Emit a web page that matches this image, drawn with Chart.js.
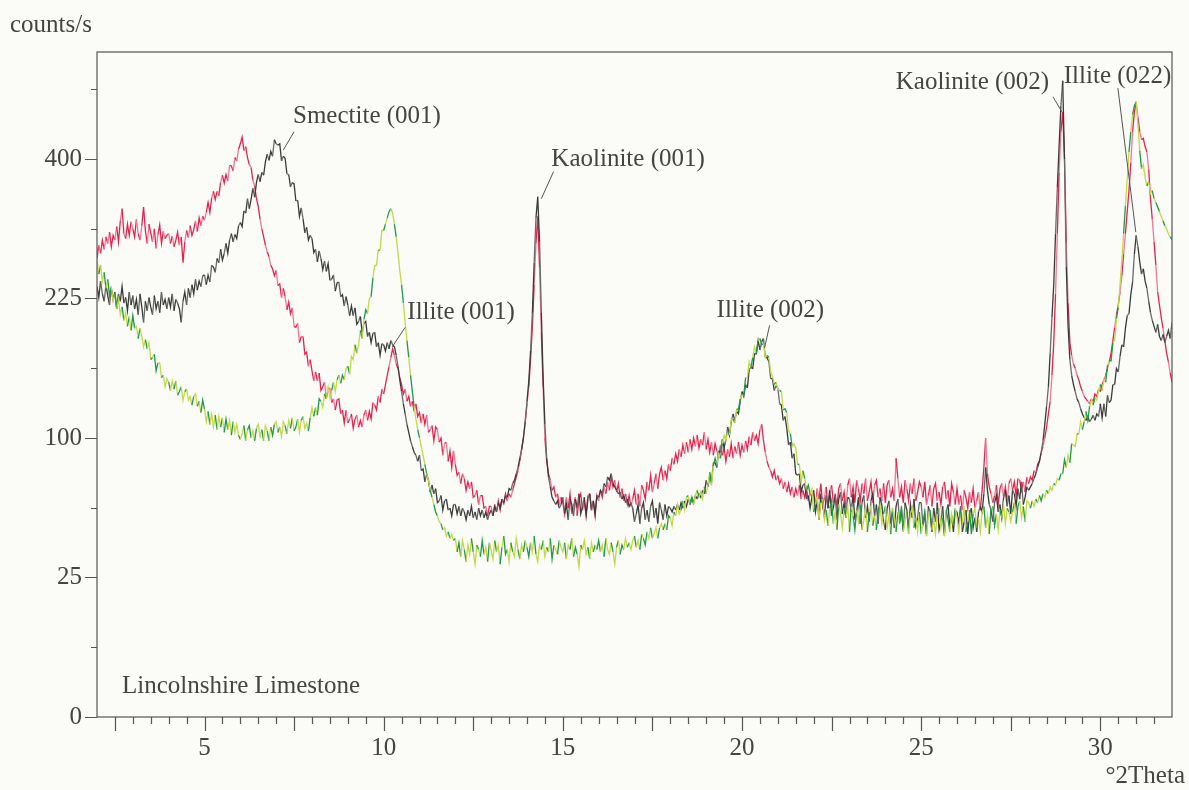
<!DOCTYPE html>
<html>
<head>
<meta charset="utf-8">
<title>Lincolnshire Limestone</title>
<script src="https://cdn.jsdelivr.net/npm/chart.js@4.4.1/dist/chart.umd.min.js"></script>
<style>
  html, body { margin: 0; padding: 0; background: #fbfbf7; }
  #wrap { width: 1189px; height: 790px; position: relative; }
</style>
</head>
<body>
<div id="wrap"><canvas id="xrd"></canvas></div>
<script>
// 2θ grid: 2.00 .. 32.00 deg in 0.05 deg steps, one row per degree
const thetaStart = 2.0;
const thetaStep = 0.05;

// counts/s, air dried
const airDried = [
  238, 226, 244, 230, 222, 240, 228, 218, 236, 224, 232, 214, 230, 222, 238, 220, 226, 212, 232, 218,
  228, 214, 224, 208, 230, 216, 200, 222, 212, 226, 216, 208, 228, 214, 222, 210, 232, 218, 224, 214,
  226, 216, 230, 212, 224, 220, 214, 200, 222, 232, 218, 236, 226, 240, 230, 246, 234, 244, 238, 250,
  251, 240, 251, 243, 262, 260, 254, 270, 265, 281, 268, 276, 288, 276, 292, 300, 290, 299, 294, 310,
  314, 309, 329, 326, 345, 332, 344, 359, 347, 367, 378, 368, 381, 377, 396, 407, 398, 411, 404, 428,
  422, 420, 422, 397, 404, 401, 379, 378, 361, 367, 365, 342, 343, 322, 333, 319, 301, 308, 292, 298,
  294, 277, 281, 266, 279, 270, 257, 267, 255, 264, 245, 246, 251, 233, 242, 243, 227, 229, 217, 227,
  218, 207, 217, 207, 215, 198, 201, 206, 190, 199, 201, 186, 190, 180, 189, 190, 176, 180, 168, 179,
  178, 172, 180, 174, 182, 178, 176, 168, 158, 146, 136, 126, 118, 110, 104, 98, 94, 90, 88, 84,
  88, 78, 79, 71, 76, 72, 65, 69, 64, 67, 59, 60, 63, 55, 60, 61, 55, 56, 52, 58,
  58, 53, 57, 52, 56, 54, 50, 55, 52, 57, 51, 54, 50, 56, 52, 55, 51, 54, 50, 53,
  55, 52, 57, 54, 59, 56, 61, 59, 63, 62, 67, 66, 70, 72, 76, 80, 86, 92, 100, 112,
  128, 145, 172, 210, 265, 320, 348, 290, 210, 148, 110, 86, 74, 68, 62, 60, 58, 60, 56, 58,
  62, 53, 58, 50, 61, 58, 52, 61, 56, 64, 53, 57, 62, 52, 61, 64, 55, 60, 53, 63,
  62, 66, 64, 70, 68, 74, 72, 76, 70, 68, 66, 64, 65, 61, 63, 59, 61, 57, 59, 56,
  49, 53, 58, 48, 56, 59, 50, 55, 49, 57, 60, 51, 56, 48, 59, 55, 50, 58, 52, 57,
  56, 54, 57, 55, 58, 55, 59, 56, 60, 57, 61, 58, 62, 59, 63, 61, 64, 62, 66, 64,
  72, 68, 75, 71, 83, 83, 80, 91, 90, 99, 93, 99, 108, 102, 112, 118, 113, 120, 118, 128,
  136, 132, 142, 139, 155, 157, 156, 170, 169, 182, 173, 181, 184, 166, 166, 162, 147, 147, 137, 141,
  139, 126, 125, 113, 116, 107, 95, 97, 86, 89, 76, 75, 76, 65, 69, 70, 61, 63, 56, 62,
  66, 54, 60, 50, 64, 60, 51, 63, 56, 66, 52, 56, 63, 50, 61, 65, 53, 59, 51, 62,
  61, 54, 64, 50, 54, 62, 48, 59, 63, 51, 57, 49, 60, 64, 52, 58, 48, 62, 58, 49,
  45, 56, 60, 48, 54, 46, 57, 61, 49, 55, 45, 59, 55, 46, 58, 51, 61, 47, 51, 59,
  59, 47, 53, 43, 57, 53, 44, 56, 49, 59, 45, 49, 57, 43, 54, 58, 46, 52, 44, 55,
  54, 48, 57, 44, 49, 55, 43, 53, 56, 46, 51, 44, 54, 57, 54, 64, 80, 66, 58, 55,
  49, 59, 63, 54, 58, 51, 62, 66, 57, 63, 53, 66, 64, 57, 67, 61, 71, 58, 62, 68,
  66, 68, 70, 73, 76, 80, 84, 90, 98, 110, 124, 140, 170, 205, 240, 300, 360, 420, 480, 520,
  400, 260, 196, 164, 150, 142, 136, 130, 127, 122, 118, 115, 113, 116, 112, 114, 117, 113, 118, 116,
  126, 115, 126, 116, 133, 127, 129, 142, 142, 156, 153, 167, 178, 176, 194, 207, 209, 229, 243, 275,
  298, 284, 266, 252, 258, 244, 236, 222, 210, 202, 196, 190, 198, 186, 182, 188, 180, 186, 192, 184,
  200
];

// counts/s, glycolated
const glycolated = [
  270, 286, 276, 292, 281, 296, 288, 302, 284, 298, 292, 309, 290, 316, 332, 300, 294, 312, 298, 315,
  306, 296, 318, 300, 292, 310, 334, 304, 288, 312, 301, 290, 306, 282, 299, 311, 288, 303, 294, 298,
  300, 288, 297, 284, 292, 302, 286, 296, 265, 290, 304, 295, 310, 298, 305, 316, 303, 320, 310, 322,
  317, 327, 340, 327, 346, 355, 344, 355, 349, 367, 377, 366, 378, 369, 391, 390, 383, 402, 397, 414,
  422, 432, 412, 418, 402, 392, 388, 370, 362, 345, 335, 318, 306, 296, 286, 278, 272, 262, 258, 250,
  256, 239, 241, 226, 236, 227, 213, 221, 209, 215, 196, 195, 199, 180, 186, 186, 169, 171, 158, 164,
  154, 145, 153, 145, 152, 137, 140, 144, 130, 138, 139, 127, 130, 121, 129, 130, 118, 121, 111, 121,
  111, 114, 118, 107, 114, 117, 108, 113, 108, 117, 121, 113, 120, 114, 127, 125, 121, 132, 127, 138,
  134, 142, 150, 158, 166, 174, 168, 160, 156, 148, 142, 134, 138, 128, 132, 124, 128, 120, 126, 116,
  119, 111, 118, 110, 117, 104, 106, 109, 98, 108, 106, 97, 100, 88, 96, 97, 84, 91, 80, 91,
  82, 75, 77, 70, 76, 73, 66, 71, 67, 71, 62, 63, 66, 58, 63, 63, 56, 57, 52, 57,
  57, 52, 58, 54, 60, 55, 61, 58, 64, 60, 64, 62, 66, 70, 74, 78, 84, 92, 100, 112,
  126, 140, 165, 195, 240, 288, 322, 260, 190, 140, 100, 84, 76, 72, 66, 68, 62, 64, 58, 62,
  59, 53, 62, 56, 64, 53, 57, 62, 52, 61, 64, 55, 59, 53, 63, 64, 55, 60, 52, 63,
  60, 66, 62, 68, 64, 71, 66, 74, 68, 72, 65, 70, 62, 67, 60, 64, 58, 63, 57, 61,
  66, 58, 64, 57, 69, 66, 61, 71, 66, 75, 65, 70, 76, 67, 76, 80, 72, 78, 73, 82,
  78, 86, 82, 89, 84, 92, 87, 95, 89, 97, 90, 99, 92, 100, 94, 102, 93, 99, 95, 104,
  92, 99, 90, 97, 88, 96, 91, 86, 95, 88, 93, 84, 92, 87, 96, 86, 94, 89, 97, 88,
  95, 90, 98, 92, 101, 95, 104, 98, 102, 96, 106, 110, 98, 90, 84, 80, 78, 74, 78, 72,
  75, 70, 73, 67, 71, 65, 70, 64, 68, 62, 67, 63, 69, 61, 66, 62, 67, 60, 65, 62,
  64, 57, 67, 61, 70, 57, 62, 68, 56, 66, 69, 59, 64, 57, 67, 70, 60, 65, 56, 69,
  73, 62, 68, 59, 72, 67, 60, 70, 64, 73, 60, 65, 71, 59, 69, 72, 62, 67, 60, 70,
  59, 69, 72, 62, 67, 60, 86, 73, 62, 68, 59, 72, 67, 60, 70, 64, 73, 60, 65, 71,
  68, 62, 71, 58, 63, 69, 57, 67, 70, 60, 65, 58, 68, 71, 61, 66, 57, 70, 65, 58,
  67, 58, 63, 55, 66, 62, 56, 65, 59, 67, 56, 60, 65, 55, 66, 80, 100, 76, 68, 64,
  59, 63, 69, 58, 67, 70, 62, 68, 60, 70, 73, 66, 71, 63, 73, 72, 66, 71, 65, 74,
  70, 74, 72, 78, 76, 82, 84, 90, 94, 100, 108, 118, 128, 150, 180, 230, 300, 380, 440, 470,
  400, 289, 220, 180, 168, 160, 156, 150, 146, 140, 136, 132, 130, 128, 126, 130, 128, 134, 132, 138,
  136, 142, 146, 150, 156, 162, 170, 182, 195, 208, 218, 232, 250, 275, 300, 328, 356, 395, 440, 470,
  486, 462, 440, 428, 430, 418, 410, 385, 345, 318, 290, 262, 232, 218, 205, 194, 182, 170, 162, 152,
  144
];

// counts/s, heated
const heated = [
  268, 252, 262, 244, 254, 236, 246, 228, 238, 222, 230, 214, 224, 208, 216, 202, 210, 196, 206, 192,
  207, 194, 196, 184, 194, 186, 176, 183, 174, 180, 164, 166, 169, 154, 161, 161, 148, 150, 140, 147,
  144, 137, 145, 138, 145, 133, 136, 140, 129, 136, 138, 129, 132, 125, 132, 134, 124, 128, 119, 129,
  122, 112, 120, 110, 118, 108, 117, 106, 116, 108, 115, 104, 114, 106, 113, 102, 112, 104, 110, 102,
  99, 103, 109, 98, 106, 109, 100, 105, 98, 107, 110, 101, 106, 98, 109, 105, 98, 108, 102, 110,
  112, 104, 108, 101, 112, 109, 103, 113, 107, 115, 105, 108, 114, 104, 113, 116, 107, 111, 105, 115,
  123, 116, 123, 117, 130, 128, 123, 134, 130, 140, 131, 137, 144, 136, 146, 150, 143, 150, 146, 156,
  158, 151, 167, 164, 178, 170, 178, 192, 184, 203, 213, 209, 225, 227, 248, 262, 262, 280, 280, 304,
  304, 312, 320, 328, 332, 326, 312, 296, 276, 256, 240, 220, 200, 182, 166, 150, 136, 124, 114, 106,
  100, 94, 88, 82, 76, 72, 66, 62, 58, 54, 52, 49, 48, 45, 46, 42, 44, 41, 43, 40,
  41, 35, 39, 33, 40, 36, 31, 38, 34, 41, 35, 30, 38, 36, 33, 40, 34, 37, 31, 39,
  36, 32, 40, 35, 38, 30, 37, 42, 34, 36, 31, 39, 35, 33, 41, 36, 32, 38, 35, 40,
  37, 33, 39, 35, 42, 34, 31, 38, 36, 40, 33, 37, 35, 41, 32, 38, 36, 34, 40, 37,
  35, 39, 32, 38, 36, 41, 33, 37, 34, 29, 38, 36, 40, 34, 37, 32, 39, 35, 38, 36,
  40, 35, 38, 33, 41, 36, 34, 39, 35, 30, 37, 40, 34, 38, 36, 41, 37, 39, 36, 40,
  42, 37, 40, 36, 43, 41, 38, 44, 41, 46, 41, 43, 46, 41, 46, 48, 45, 48, 45, 52,
  51, 47, 54, 52, 58, 53, 55, 60, 55, 62, 63, 58, 62, 58, 63, 66, 62, 65, 61, 68,
  64, 69, 77, 69, 81, 86, 82, 89, 86, 96, 102, 98, 105, 102, 114, 114, 111, 122, 121, 130,
  133, 133, 148, 148, 162, 157, 166, 176, 170, 182, 184, 178, 179, 166, 168, 166, 153, 149, 142, 144,
  138, 137, 136, 121, 122, 119, 105, 103, 94, 96, 93, 82, 82, 71, 78, 73, 66, 69, 64, 67,
  54, 58, 63, 50, 59, 61, 50, 55, 47, 56, 60, 48, 54, 45, 58, 53, 46, 56, 51, 57,
  44, 57, 52, 45, 55, 49, 58, 45, 50, 56, 44, 54, 57, 47, 52, 45, 55, 58, 48, 53,
  57, 46, 52, 43, 56, 51, 44, 54, 48, 57, 44, 49, 55, 43, 53, 56, 46, 51, 44, 54,
  43, 48, 54, 42, 52, 55, 45, 50, 43, 53, 56, 46, 51, 42, 55, 50, 44, 53, 47, 56,
  51, 44, 54, 48, 57, 44, 49, 55, 43, 53, 56, 46, 51, 44, 54, 57, 46, 52, 43, 56,
  57, 47, 53, 45, 55, 51, 58, 48, 56, 54, 49, 54, 59, 48, 57, 60, 51, 57, 49, 60,
  59, 56, 60, 57, 61, 59, 63, 60, 64, 62, 66, 64, 68, 66, 70, 69, 73, 72, 76, 76,
  85, 80, 88, 83, 96, 95, 94, 103, 103, 112, 106, 112, 120, 113, 124, 129, 125, 131, 129, 137,
  142, 137, 146, 144, 159, 163, 163, 180, 182, 204, 215, 240, 268, 300, 336, 372, 410, 440, 466, 480,
  486, 450, 412, 386, 392, 374, 362, 368, 352, 356, 345, 340, 334, 328, 322, 316, 310, 306, 300, 296,
  293
];

const xTickLabels = [5, 10, 15, 20, 25, 30];
const yTickLabels = [0, 25, 100, 225, 400];
const yMinorTicks = [6.25, 56.25, 156.25, 306.25, 506.25];

// peak labels: text anchor (left, baseline) and leader line, in data units
const peakLabels = [
  { text: 'Smectite (001)',  at: [7.47, 453],  from: [7.50, 440],  to: [7.20, 413] },
  { text: 'Kaolinite (001)', at: [14.68, 390], from: [14.74, 382], to: [14.40, 345] },
  { text: 'Illite (001)',    at: [10.66, 203], from: [10.60, 195], to: [10.24, 176] },
  { text: 'Illite (002)',    at: [19.29, 206], from: [20.77, 197], to: [20.63, 175] },
  { text: 'Kaolinite (002)', at: [24.29, 507], from: [28.68, 494], to: [28.93, 470] },
  { text: 'Illite (022)',    at: [28.98, 516], from: [30.49, 508], to: [30.99, 302] }
];

const FONT = '25px "Liberation Serif", "Times New Roman", serif';
const INK = '#444444';

// square-root intensity axis
class SqrtScale extends Chart.LinearScale {
  static id = 'sqrt';
  static defaults = Chart.LinearScale.defaults;
  getPixelForValue(value) {
    const lo = Math.sqrt(this.min), hi = Math.sqrt(this.max);
    return this.getPixelForDecimal((Math.sqrt(Math.max(value, 0)) - lo) / (hi - lo));
  }
  getValueForPixel(pixel) {
    const lo = Math.sqrt(this.min), hi = Math.sqrt(this.max);
    const s = lo + this.getDecimalForPixel(pixel) * (hi - lo);
    return s * s;
  }
}
Chart.register(SqrtScale);

const toPoints = values => values.map((v, i) => ({ x: thetaStart + i * thetaStep, y: v }));

// two inks per trace, alternating along the scan
const twoTone = (a, b, pattern) => ctx => pattern[ctx.p0DataIndex % pattern.length] ? b : a;

// frame and tick marks
const frameTicks = {
  id: 'frameTicks',
  afterDatasetsDraw(chart) {
    const { ctx, chartArea: a, scales: { x, y } } = chart;
    ctx.save();
    ctx.strokeStyle = '#555';
    ctx.lineWidth = 1.2;
    ctx.strokeRect(a.left, a.top, a.right - a.left, a.bottom - a.top);
    ctx.beginPath();
    for (let t = 2.5; t < 32; t += 0.5) {
      const px = Math.round(x.getPixelForValue(t)) + 0.5;
      const len = t % 2.5 === 0 ? 14 : 7;
      ctx.moveTo(px, a.bottom);
      ctx.lineTo(px, a.bottom + len);
    }
    yTickLabels.forEach(v => {
      const py = Math.round(y.getPixelForValue(v)) + 0.5;
      ctx.moveTo(a.left, py);
      ctx.lineTo(a.left - 12, py);
    });
    yMinorTicks.forEach(v => {
      const py = Math.round(y.getPixelForValue(v)) + 0.5;
      ctx.moveTo(a.left, py);
      ctx.lineTo(a.left - 6, py);
    });
    ctx.stroke();
    ctx.restore();
  }
};

// peak names, sample name and axis titles
const captions = {
  id: 'captions',
  afterDraw(chart) {
    const { ctx, chartArea: a, scales: { x, y } } = chart;
    const px = p => [x.getPixelForValue(p[0]), y.getPixelForValue(p[1])];
    ctx.save();
    ctx.font = FONT;
    ctx.fillStyle = INK;
    ctx.strokeStyle = '#555';
    ctx.lineWidth = 1;
    ctx.textBaseline = 'alphabetic';
    peakLabels.forEach(l => {
      const [tx, ty] = px(l.at);
      ctx.fillText(l.text, tx, ty);
      const [x1, y1] = px(l.from);
      const [x2, y2] = px(l.to);
      ctx.beginPath();
      ctx.moveTo(x1, y1);
      ctx.lineTo(x2, y2);
      ctx.stroke();
    });
    ctx.fillText('Lincolnshire Limestone', a.left + 25, a.bottom - 24);
    ctx.fillText('counts/s', 10, 32);
    ctx.textAlign = 'right';
    ctx.fillText('\u00b02Theta', 1185, 783);
    ctx.restore();
  }
};

new Chart(document.getElementById('xrd'), {
  type: 'line',
  data: {
    datasets: [
      {
        label: 'heated',
        data: toPoints(heated),
        borderWidth: 1.3,
        segment: { borderColor: twoTone('#c3d84a', '#1f9a45', [0, 1, 0, 0, 1, 0, 1, 1, 0, 0, 1, 0, 0]) },
        borderColor: '#c3d84a'
      },
      {
        label: 'air dried',
        data: toPoints(airDried),
        borderWidth: 1.3,
        segment: { borderColor: twoTone('#3a3a3a', '#6a6a6a', [0, 0, 1, 0, 1, 0, 0, 1]) },
        borderColor: '#3a3a3a'
      },
      {
        label: 'glycolated',
        data: toPoints(glycolated),
        borderWidth: 1.3,
        segment: { borderColor: twoTone('#e8214b', '#f27797', [0, 1, 0, 0, 1, 0, 1, 0, 0]) },
        borderColor: '#e8214b'
      }
    ]
  },
  options: {
    responsive: true,
    maintainAspectRatio: false,
    animation: false,
    elements: { point: { radius: 0 }, line: { tension: 0 } },
    layout: { padding: { top: 52, right: 17, left: 0, bottom: 0 } },
    plugins: { legend: { display: false }, tooltip: { enabled: false } },
    scales: {
      x: {
        type: 'linear',
        min: 2,
        max: 32,
        grid: { display: false, drawTicks: false },
        border: { display: false },
        afterBuildTicks: s => { s.ticks = xTickLabels.map(v => ({ value: v })); },
        afterFit: s => { s.height = 73; },
        ticks: {
          autoSkip: false,
          maxRotation: 0,
          padding: 16,
          color: INK,
          font: { family: '"Liberation Serif", "Times New Roman", serif', size: 25 },
          callback: v => String(v)
        }
      },
      y: {
        type: 'sqrt',
        min: 0,
        max: 568,
        grid: { display: false, drawTicks: false },
        border: { display: false },
        afterBuildTicks: s => { s.ticks = yTickLabels.map(v => ({ value: v })); },
        afterFit: s => { s.width = 97; },
        ticks: {
          autoSkip: false,
          padding: 15,
          color: INK,
          font: { family: '"Liberation Serif", "Times New Roman", serif', size: 25 },
          callback: v => String(v)
        }
      }
    }
  },
  plugins: [frameTicks, captions]
});
</script>
</body>
</html>
